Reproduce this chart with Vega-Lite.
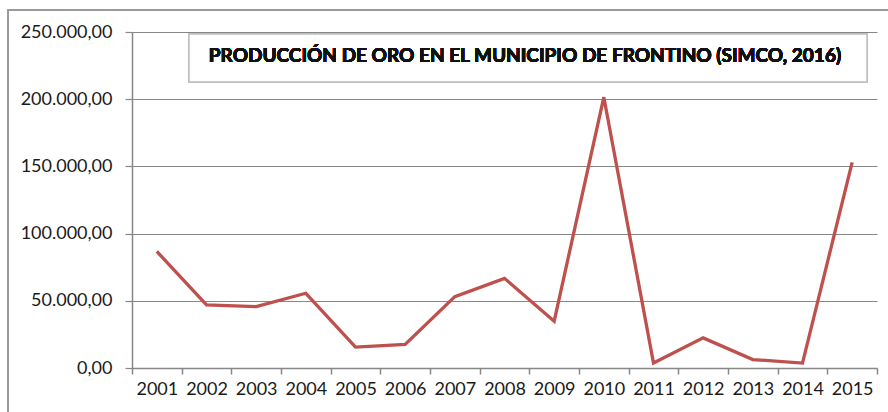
{
  "$schema": "https://vega.github.io/schema/vega-lite/v6.json",
  "width": 745,
  "height": 336,
  "autosize": {"type": "none"},
  "padding": {"left": 132, "top": 32, "right": 11, "bottom": 44},
  "background": "white",
  "config": {
    "locale": {"number": {"decimal": ",", "thousands": ".", "grouping": [3], "currency": ["$", ""]}},
    "view": {"stroke": null},
    "font": "Lato"
  },
  "data": {"values": [
    {"year": "2001", "oro": 86700},
    {"year": "2002", "oro": 47000},
    {"year": "2003", "oro": 45700},
    {"year": "2004", "oro": 55600},
    {"year": "2005", "oro": 15600},
    {"year": "2006", "oro": 17500},
    {"year": "2007", "oro": 53100},
    {"year": "2008", "oro": 66700},
    {"year": "2009", "oro": 34800},
    {"year": "2010", "oro": 201500},
    {"year": "2011", "oro": 3700},
    {"year": "2012", "oro": 22400},
    {"year": "2013", "oro": 6300},
    {"year": "2014", "oro": 3700},
    {"year": "2015", "oro": 153000}
  ]},
  "layer": [
    {
      "mark": {"type": "line", "color": "#BE504D", "strokeWidth": 3.3},
      "encoding": {
        "x": {
          "field": "year", "type": "ordinal", "bandPosition": 0.5,
          "scale": {"type": "band", "paddingInner": 0, "paddingOuter": 0},
          "axis": {
            "title": null, "labelAngle": 0, "tickBand": "extent",
            "domainColor": "#878787", "domainWidth": 1.5, "tickColor": "#878787", "tickWidth": 1.5, "tickSize": 6,
            "labelFontSize": 18, "labelColor": "#1a1a1a", "labelPadding": 6, "grid": false
          }
        },
        "y": {
          "field": "oro", "type": "quantitative",
          "scale": {"domain": [0, 250000], "nice": false},
          "axis": {
            "title": null, "values": [0, 50000, 100000, 150000, 200000, 250000], "format": ",.2f",
            "grid": true, "gridColor": "#878787", "gridWidth": 1.2,
            "domainColor": "#878787", "domainWidth": 1.5, "tickColor": "#878787", "tickWidth": 1.2, "tickSize": 7,
            "labelFontSize": 18, "labelColor": "#1a1a1a", "labelPadding": 13
          }
        }
      }
    },
    {
      "mark": {"type": "rect", "fill": "white", "stroke": "#BFBFBF", "strokeWidth": 1.5},
      "encoding": {
        "x": {"datum": 0.0765, "type": "quantitative", "scale": {"domain": [0, 1]}, "axis": null},
        "x2": {"datum": 0.9866},
        "y": {"datum": 248500, "type": "quantitative", "scale": {"domain": [0, 250000], "nice": false}},
        "y2": {"datum": 212800}
      }
    },
    {
      "mark": {"type": "text", "text": "PRODUCCIÓN DE ORO EN EL MUNICIPIO DE FRONTINO (SIMCO, 2016)", "fontSize": 19, "fontWeight": "bold", "color": "#111111", "align": "center", "baseline": "alphabetic"},
      "encoding": {
        "x": {"datum": 0.5275, "type": "quantitative", "scale": {"domain": [0, 1]}, "axis": null},
        "y": {"datum": 227400, "type": "quantitative", "scale": {"domain": [0, 250000], "nice": false}}
      }
    },
    {
      "mark": {"type": "rect", "fill": null, "stroke": "#9A9A9A", "strokeWidth": 1.5},
      "encoding": {
        "x": {"datum": -0.1664, "type": "quantitative", "scale": {"domain": [0, 1]}, "axis": null},
        "x2": {"datum": 1.3},
        "y": {"datum": 266400, "type": "quantitative", "scale": {"domain": [0, 250000], "nice": false}},
        "y2": {"datum": -80000}
      }
    }
  ],
  "resolve": {"scale": {"x": "independent"}}
}
